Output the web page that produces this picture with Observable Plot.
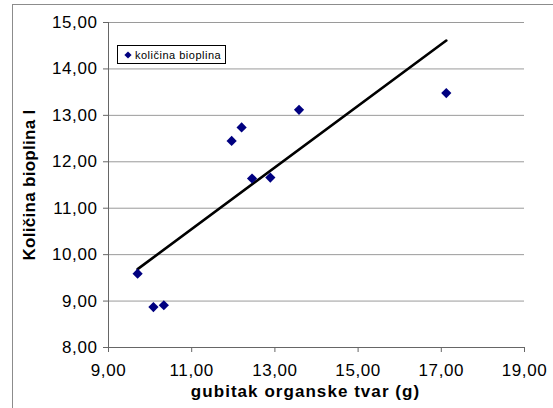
<!DOCTYPE html>
<html>
<head>
<meta charset="utf-8">
<script src="https://cdn.jsdelivr.net/npm/d3@7"></script>
<script src="https://cdn.jsdelivr.net/npm/@observablehq/plot@0.6"></script>
<style>
  body { margin: 0; background: #fff; }
  #chart { position: relative; width: 553px; height: 408px; overflow: hidden; font-family: Arial, "Liberation Sans", sans-serif; }
  #chart .edge { position: absolute; left: 12px; top: 4px; right: -2px; bottom: -2px; border-left: 1px solid #8c8c8c; border-top: 1px solid #8c8c8c; pointer-events: none; }
  #chart svg { position: absolute; left: 0; top: 0; }
  #chart svg text { letter-spacing: 0.6px; }
  #chart svg g[aria-label="x-axis label"] text,
  #chart svg g[aria-label="y-axis label"] text { font-weight: bold; font-size: 17px; }
  #chart svg g[aria-label="x-axis label"] text { letter-spacing: 1.05px; }
  #chart svg g[aria-label="y-axis label"] text { letter-spacing: 0.3px; }
  #legend { position: absolute; left: 117px; top: 45px; width: 109px; height: 19px; box-sizing: border-box; border: 1px solid #000; background: #fff; font-size: 11px; letter-spacing: 0.5px; color: #000; display: flex; align-items: center; white-space: nowrap; }
  #legend svg { position: static; margin: 0 3px 0 6px; }
</style>
</head>
<body>
<div id="chart"></div>
<script>
// Loss of organic matter (g) and amount of biogas (l) per sample
const organicLoss = [9.70, 10.08, 10.33, 11.96, 12.20, 12.45, 12.89, 13.58, 17.12];
const biogasAmount = [9.59, 8.87, 8.91, 12.45, 12.74, 11.64, 11.66, 13.12, 13.48];

const xTicks = [9, 11, 13, 15, 17, 19];
const yTicks = [8, 9, 10, 11, 12, 13, 14, 15];

const seriesName = "količina bioplina";
const xTitle = "gubitak organske tvar (g)";
const yTitle = "Količina bioplina l";

const samples = organicLoss.map((x, i) => ({x, y: biogasAmount[i]}));
const fmt = d => d.toFixed(2).replace(".", ",");

const chart = Plot.plot({
  width: 553,
  height: 408,
  marginLeft: 108,
  marginRight: 29,
  marginTop: 22,
  marginBottom: 61,
  style: {fontFamily: "Arial, 'Liberation Sans', sans-serif", color: "#000", background: "transparent"},
  x: {domain: [9, 19]},
  y: {domain: [8, 15]},
  marks: [
    Plot.gridY(yTicks, {stroke: "#9a9a9a", strokeOpacity: 1}),
    Plot.axisY(yTicks, {
      tickSize: 5, tickPadding: 6, tickFormat: fmt, fontSize: 17,
      stroke: "#666", label: yTitle, labelAnchor: "center", labelOffset: 86, labelArrow: "none"
    }),
    Plot.axisX(xTicks, {
      tickSize: 5, tickPadding: 11, tickFormat: fmt, fontSize: 17,
      stroke: "#666", label: xTitle, labelAnchor: "center", labelOffset: 49, labelArrow: "none"
    }),
    Plot.ruleX([9], {stroke: "#666"}),
    Plot.ruleY([8], {stroke: "#666"}),
    Plot.linearRegressionY(samples, {x: "x", y: "y", ci: 0, stroke: "#000", strokeWidth: 2.6}),
    Plot.dot(samples, {x: "x", y: "y", symbol: "diamond2", r: 4.6, fill: "#000080", stroke: "none"})
  ]
});

// nudge the x-axis title slightly left of the plot centre
const xLabel = chart.querySelector('g[aria-label="x-axis label"]');
if (xLabel) xLabel.setAttribute("transform", ((xLabel.getAttribute("transform") || "") + " translate(-11,0)").trim());

const root = document.getElementById("chart");
root.appendChild(chart);

const edge = document.createElement("div");
edge.className = "edge";
root.appendChild(edge);

const legend = document.createElement("div");
legend.id = "legend";
legend.innerHTML = '<svg width="8" height="8" viewBox="-4 -4 8 8"><path d="M0,-3.6L3.6,0L0,3.6L-3.6,0Z" fill="#000080"/></svg><span></span>';
legend.querySelector("span").textContent = seriesName;
root.appendChild(legend);
</script>
</body>
</html>
